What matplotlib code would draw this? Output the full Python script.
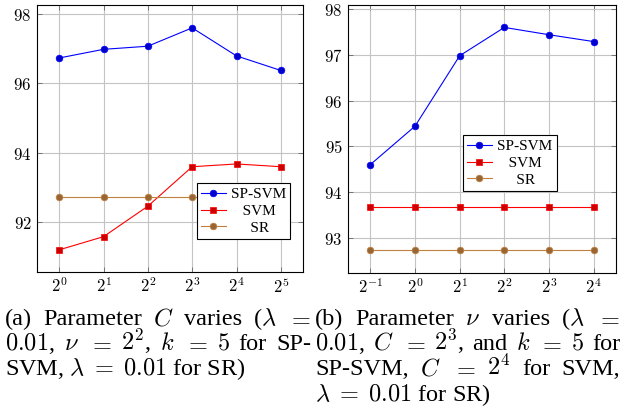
import matplotlib
matplotlib.use("Agg")
import matplotlib.pyplot as plt
from matplotlib.font_manager import FontProperties

# data
c_values = [1, 2, 4, 8, 16, 32]
c_labels = [r"$2^{0}$", r"$2^{1}$", r"$2^{2}$", r"$2^{3}$", r"$2^{4}$", r"$2^{5}$"]
sp_svm_c = [96.73, 96.98, 97.07, 97.60, 96.79, 96.37]
svm_c = [91.19, 91.57, 92.45, 93.59, 93.67, 93.59]
sr_c = [92.72, 92.72, 92.72, 92.72, 92.72, 92.72]

nu_values = [0.5, 1, 2, 4, 8, 16]
nu_labels = [r"$2^{-1}$", r"$2^{0}$", r"$2^{1}$", r"$2^{2}$", r"$2^{3}$", r"$2^{4}$"]
sp_svm_nu = [94.60, 95.44, 96.98, 97.60, 97.44, 97.29]
svm_nu = [93.67, 93.67, 93.67, 93.67, 93.67, 93.67]
sr_nu = [92.74, 92.74, 92.74, 92.74, 92.74, 92.74]

yticks_c = [92, 94, 96, 98]
yticks_nu = [93, 94, 95, 96, 97, 98]

W, H = 628, 412
fig = plt.figure(figsize=(W / 100, H / 100), dpi=100)
ax1 = fig.add_axes([37 / W, 1 - 272 / H, 266 / W, 267 / H])
ax2 = fig.add_axes([348 / W, 1 - 273 / H, 268 / W, 268 / H])

legfont = FontProperties(family="Liberation Serif", size=11)


def draw(ax, x, sp, svm, sr, xlabels, yticks, ylim, legpos):
    ax.plot(x, sp, color="blue", lw=0.8, marker="o", ms=4.8,
            mfc=(0, 0, 0.8), mec="blue", mew=0.5, label="SP-SVM")
    ax.plot(x, svm, color="red", lw=0.8, marker="s", ms=4.4,
            mfc=(0.8, 0, 0), mec="red", mew=0.5, label="   SVM")
    ax.plot(x, sr, color="#bf8040", lw=0.8, marker="o", ms=4.8,
            mfc=(0.6, 0.4, 0.2), mec="#bf8040", mew=0.5, label="     SR")
    ax.set_xscale("log", base=2)
    ax.set_xlim(x[0] / 2 ** 0.5, x[-1] * 2 ** 0.5)
    ax.set_xticks(x)
    ax.set_xticklabels(xlabels, math_fontfamily="cm", fontsize=12)
    ax.minorticks_off()
    ax.set_yticks(yticks)
    ax.set_yticklabels([r"$%d$" % v for v in yticks], math_fontfamily="cm", fontsize=12)
    ax.set_ylim(*ylim)
    ax.grid(True, color="#c4c4c4", lw=0.8)
    ax.set_axisbelow(True)
    ax.tick_params(direction="in", length=3.5, width=0.5, color="#555555",
                   top=True, right=True, pad=4)
    for s in ax.spines.values():
        s.set_linewidth(0.8)
    leg = ax.legend(loc="lower left", bbox_to_anchor=legpos, borderaxespad=0,
                    prop=legfont, fancybox=False, framealpha=1, edgecolor="black",
                    handlelength=1.6, handletextpad=0.35, labelspacing=0.2,
                    borderpad=0.28)
    leg.get_frame().set_linewidth(0.8)
    leg.set_zorder(5)


draw(ax1, c_values, sp_svm_c, svm_c, sr_c, c_labels, yticks_c, (90.55, 98.26), (0.601, 0.124))
draw(ax2, nu_values, sp_svm_nu, svm_nu, sr_nu, nu_labels, yticks_nu, (92.23, 98.09), (0.429, 0.306))

# captions, justified like the paper columns
cap = dict(fontfamily="Liberation Serif", fontsize=17.5, math_fontfamily="cm", va="baseline")
renderer = fig.canvas.get_renderer()


def put_line(words, x0, x1, y):
    texts = [fig.text(0, 1 - y / H, w, **cap) for w in words]
    widths = [t.get_window_extent(renderer).width for t in texts]
    gap = (x1 - x0 - sum(widths)) / max(len(words) - 1, 1)
    x = x0
    for t, w in zip(texts, widths):
        t.set_x(x / W)
        x += w + gap


put_line(["(a)", "Parameter", "$C$", "varies", r"($\lambda$", "$=$"], 5, 311, 325)
put_line(["$0.01$,", r"$\nu$", "$=$", "$2^2$,", "$k$", "$=$", "$5$", "for", "SP-"], 5, 311, 350)
fig.text(5 / W, 1 - 375 / H, r"SVM, $\lambda\;=\;0.01$ for SR)", **cap)

put_line(["(b)", "Parameter", r"$\nu$", "varies", r"($\lambda$", "$=$"], 315, 620, 325)
put_line(["$0.01$,", "$C$", "$=$", "$2^3$,", "and", "$k$", "$=$", "$5$", "for"], 315, 620, 350)
put_line(["SP-SVM,", "$C$", "$=$", "$2^4$", "for", "SVM,"], 315, 620, 375)
fig.text(315 / W, 1 - 401 / H, r"$\lambda\;=\;0.01$ for SR)", **cap)

fig.savefig("out.png", dpi=100)
